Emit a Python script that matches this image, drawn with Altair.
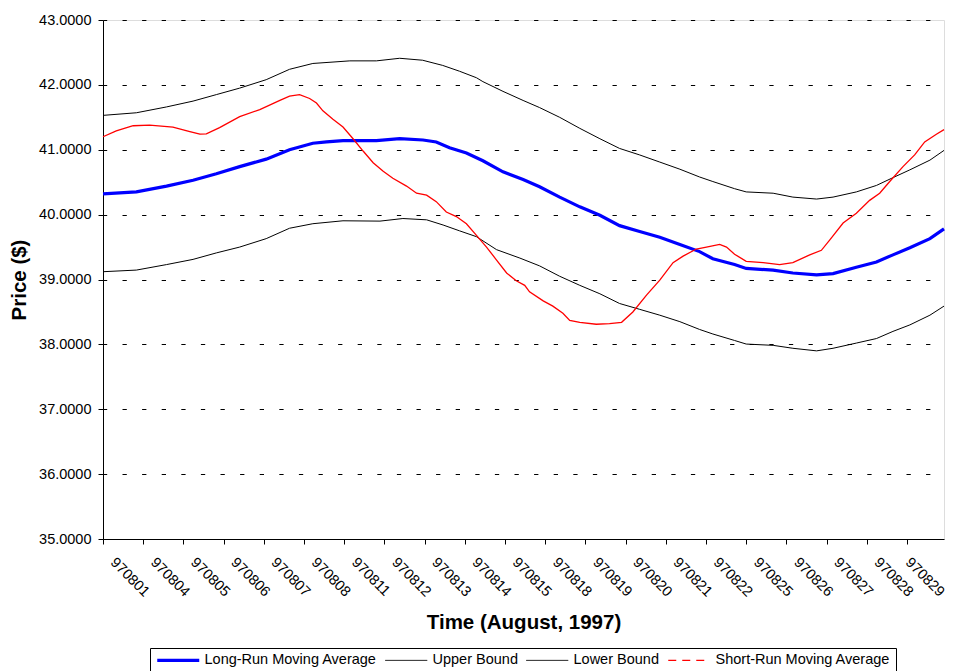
import altair as alt
import pandas as pd

FONT = "Liberation Sans"

dates = ["970801", "970804", "970805", "970806", "970807", "970808", "970811",
         "970812", "970813", "970814", "970815", "970818", "970819", "970820",
         "970821", "970822", "970825", "970826", "970827", "970828", "970829"]

series_names = ["Long-Run Moving Average", "Upper Bound", "Lower Bound",
                "Short-Run Moving Average"]

# x positions are in trading-day units (0 = 970801 tick)
upper_x = [0.00, 0.83, 1.58, 2.24, 2.82, 3.40, 4.06, 4.64, 5.22, 6.14, 6.80, 7.38,
           7.95, 8.45, 8.87, 9.29, 9.45, 9.95, 10.45, 10.86, 11.36, 11.86, 12.36,
           12.85, 13.35, 13.85, 14.35, 14.84, 15.17, 15.71, 16.00, 16.67, 17.16,
           17.75, 18.16, 18.74, 19.24, 19.65, 20.07, 20.57, 20.92]
upper_y = [41.53, 41.57, 41.66, 41.75, 41.85, 41.95, 42.08, 42.24, 42.33, 42.37,
           42.37, 42.41, 42.38, 42.30, 42.21, 42.11, 42.05, 41.90, 41.76, 41.65,
           41.50, 41.33, 41.17, 41.02, 40.92, 40.81, 40.70, 40.58, 40.51, 40.40,
           40.35, 40.33, 40.27, 40.24, 40.27, 40.35, 40.45, 40.57, 40.69, 40.84,
           40.99]

long_x = [0.00, 0.83, 1.58, 2.24, 2.82, 3.40, 4.06, 4.64, 5.22, 5.56, 5.97, 6.80,
          7.38, 7.96, 8.29, 8.62, 9.04, 9.45, 9.95, 10.45, 10.86, 11.36, 11.86,
          12.36, 12.85, 13.35, 13.85, 14.35, 14.84, 15.17, 15.71, 16.00, 16.67,
          17.16, 17.75, 18.16, 18.74, 19.24, 19.65, 20.07, 20.57, 20.92]
long_y = [40.32, 40.35, 40.44, 40.53, 40.63, 40.74, 40.855, 41.00, 41.10, 41.12,
          41.14, 41.14, 41.17, 41.15, 41.12, 41.03, 40.95, 40.83, 40.66, 40.54,
          40.43, 40.27, 40.12, 39.99, 39.83, 39.74, 39.65, 39.54, 39.43, 39.32,
          39.23, 39.17, 39.145, 39.10, 39.07, 39.09, 39.19, 39.27, 39.38, 39.49,
          39.63, 39.78]

lower_x = [0.00, 0.83, 1.58, 2.24, 2.82, 3.40, 4.06, 4.64, 5.22, 5.97, 6.89, 7.46,
           8.05, 8.46, 8.87, 9.29, 9.79, 10.37, 10.86, 11.36, 11.86, 12.36, 12.85,
           13.35, 13.85, 14.35, 14.84, 15.17, 15.71, 16.00, 16.67, 17.16, 17.75,
           18.16, 18.74, 19.24, 19.65, 20.07, 20.57, 20.92]
lower_y = [39.12, 39.145, 39.23, 39.31, 39.41, 39.50, 39.63, 39.79, 39.86, 39.905,
           39.90, 39.94, 39.92, 39.84, 39.75, 39.66, 39.46, 39.33, 39.21, 39.05,
           38.91, 38.78, 38.63, 38.54, 38.45, 38.35, 38.23, 38.16, 38.06, 38.005,
           37.985, 37.94, 37.90, 37.94, 38.02, 38.09, 38.20, 38.30, 38.45, 38.59]

short_x = [0.00, 0.33, 0.75, 1.16, 1.74, 2.16, 2.41, 2.57, 2.90, 3.40, 3.90, 4.40,
           4.64, 4.89, 5.14, 5.31, 5.47, 5.72, 5.97, 6.22, 6.47, 6.72, 6.97, 7.21,
           7.55, 7.80, 8.05, 8.29, 8.54, 8.79, 9.04, 9.29, 9.54, 9.79, 10.04, 10.28,
           10.49, 10.61, 10.95, 11.19, 11.44, 11.61, 11.86, 12.27, 12.60, 12.90,
           13.18, 13.52, 13.85, 14.18, 14.43, 14.76, 15.01, 15.34, 15.51, 15.71,
           16.00, 16.42, 16.83, 17.16, 17.58, 17.87, 18.08, 18.41, 18.74, 19.07,
           19.32, 19.57, 19.90, 20.19, 20.44, 20.73, 20.92]
short_y = [41.20, 41.29, 41.37, 41.38, 41.35, 41.28, 41.24, 41.245, 41.34, 41.51,
           41.62, 41.76, 41.825, 41.85, 41.79, 41.72, 41.60, 41.47, 41.35, 41.17,
           40.98, 40.80, 40.67, 40.56, 40.44, 40.33, 40.30, 40.20, 40.04, 39.97,
           39.86, 39.68, 39.50, 39.30, 39.10, 38.98, 38.91, 38.81, 38.67, 38.59,
           38.48, 38.37, 38.34, 38.31, 38.32, 38.34, 38.50, 38.76, 38.99, 39.26,
           39.36, 39.47, 39.50, 39.54, 39.50, 39.39, 39.28, 39.26, 39.23, 39.26,
           39.38, 39.45, 39.61, 39.87, 40.02, 40.22, 40.33, 40.51, 40.74, 40.92,
           41.12, 41.24, 41.31]

rows = []
for name, xs, ys in [("Upper Bound", upper_x, upper_y),
                     ("Lower Bound", lower_x, lower_y),
                     ("Long-Run Moving Average", long_x, long_y),
                     ("Short-Run Moving Average", short_x, short_y)]:
    for i, (a, b) in enumerate(zip(xs, ys)):
        rows.append({"series": name, "t": a, "price": b, "idx": i})
df = pd.DataFrame(rows)

label_expr = "[" + ",".join('"%s"' % d for d in dates) + "][datum.value]"

legend = alt.Legend(
    title=None, orient="none", legendX=47, legendY=628, direction="horizontal",
    columns=4, symbolType="M-1,0H7.4", symbolSize=100, labelFont=FONT,
    labelFontSize=14.5, labelColor="black", strokeColor="black", padding=5,
    columnPadding=6, labelOffset=35, labelLimit=400, fillColor="white",
)

color = alt.Color("series:N", scale=alt.Scale(domain=series_names,
                  range=["#0000FF", "#000000", "#000000", "#FF0000"]), legend=legend)
width_enc = alt.StrokeWidth("series:N", scale=alt.Scale(type="ordinal", domain=series_names,
                            range=[3.2, 1, 1, 1.3]), legend=legend)
dash_enc = alt.StrokeDash("series:N", scale=alt.Scale(domain=series_names,
                          range=[[1, 0], [1, 0], [1, 0], [8, 6]]), legend=legend)

x_enc = alt.X("t:Q", scale=alt.Scale(domain=[0, 20.92], nice=False, zero=False),
              axis=alt.Axis(values=list(range(21)), labelExpr=label_expr,
                            labelAngle=45, labelAlign="left", labelBaseline="top",
                            labelOffset={"condition": {"test": "datum.value == 20",
                                                       "value": 5},
                                         "value": 14},
                            labelPadding=11, labelFlush=False,
                            labelOverlap=False, labelBound=False, tickSize=5,
                            grid=False, title="Time (August, 1997)",
                            titleFont=FONT, titleFontSize=20.5, titleFontWeight="bold",
                            titleY=89, titleBaseline="alphabetic", titleColor="black",
                            domainColor="black", tickColor="black", labelColor="black",
                            labelFont=FONT, labelFontSize=14.5))
y_enc = alt.Y("price:Q", scale=alt.Scale(domain=[35, 43], nice=False, zero=False),
              axis=alt.Axis(values=list(range(35, 44)), format=".4f", grid=True,
                            gridDash=[4.3, 15.3], gridDashOffset=0.6,
                            gridColor="black", gridWidth=1, tickSize=5,
                            labelPadding=7, title="Price ($)", titleFont=FONT,
                            titleFontSize=20.5, titleFontWeight="bold", titleX=-78,
                            titleY=259.5, titleBaseline="alphabetic",
                            titleColor="black", domainColor="black",
                            tickColor="black", labelColor="black", labelFont=FONT,
                            labelFontSize=14.5))

lines = alt.Chart(df).mark_line(interpolate="linear").encode(
    x=x_enc, y=y_enc, color=color, strokeWidth=width_enc, order="idx:Q",
)

legend_layer = alt.Chart(df).transform_filter("false").mark_line().encode(
    x="t:Q", y="price:Q", color=color, strokeWidth=width_enc, strokeDash=dash_enc,
)

chart = alt.layer(lines, legend_layer).properties(
    width=841, height=519,
    autosize=alt.AutoSizeParams(type="none"),
    padding={"left": 95, "top": 12, "right": 4, "bottom": 132},
).configure_view(stroke="black", strokeWidth=1).configure(background="white")

chart.save("out.html", embed_options={"renderer": "svg", "actions": False})
